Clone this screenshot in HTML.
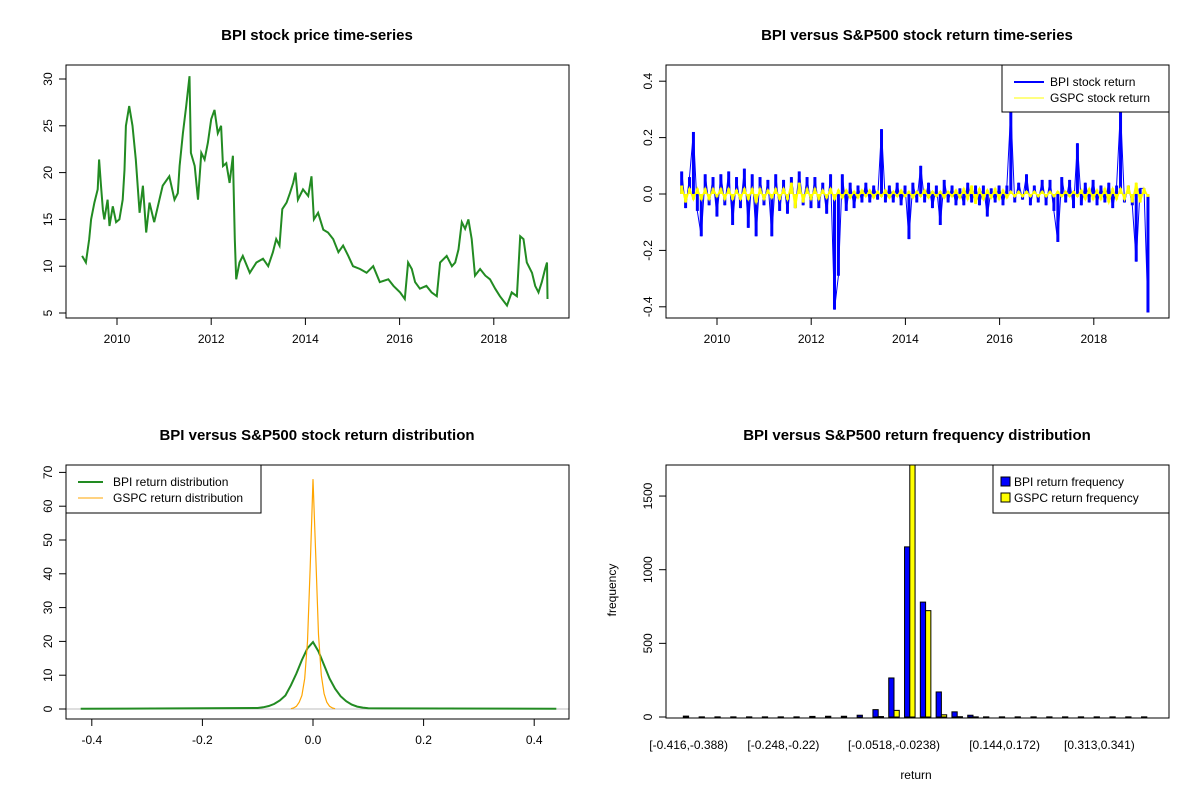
<!DOCTYPE html>
<html><head><meta charset="utf-8">
<style>
html,body{margin:0;padding:0;background:#fff;}
svg{display:block;font-family:"Liberation Sans",Arial,sans-serif;}
</style></head>
<body>
<svg id="chart" width="1200" height="800" viewBox="0 0 1200 800" xmlns="http://www.w3.org/2000/svg">
<rect x="0" y="0" width="1200" height="800" fill="#fff"/>
<g id="p1"></g>
<g id="p2"></g>
<g id="p3"></g>
<g id="p4"></g>
</svg>
<script>
// ---- Panel 1 data: BPI price ----
const priceYears = [2009.26,2009.34,2009.41,2009.45,2009.52,2009.59,2009.62,2009.66,2009.70,2009.73,2009.80,2009.84,2009.91,2009.98,2010.05,2010.12,2010.16,2010.19,2010.26,2010.33,2010.40,2010.48,2010.55,2010.62,2010.69,2010.79,2010.90,2010.97,2011.11,2011.22,2011.29,2011.33,2011.40,2011.47,2011.54,2011.57,2011.65,2011.72,2011.79,2011.86,2011.93,2012.00,2012.07,2012.14,2012.21,2012.25,2012.32,2012.39,2012.46,2012.50,2012.53,2012.60,2012.67,2012.82,2012.96,2013.10,2013.21,2013.31,2013.38,2013.45,2013.51,2013.60,2013.67,2013.74,2013.79,2013.84,2013.95,2014.06,2014.13,2014.18,2014.27,2014.38,2014.48,2014.59,2014.70,2014.80,2014.91,2015.01,2015.16,2015.30,2015.44,2015.58,2015.76,2015.87,2016.01,2016.11,2016.18,2016.26,2016.33,2016.43,2016.57,2016.68,2016.79,2016.86,2017.00,2017.11,2017.18,2017.25,2017.32,2017.39,2017.46,2017.53,2017.60,2017.71,2017.82,2017.92,2018.03,2018.13,2018.28,2018.38,2018.49,2018.56,2018.63,2018.70,2018.81,2018.88,2018.95,2019.02,2019.09,2019.13,2019.14];
const priceValues = [11.1,10.4,12.9,15,16.8,18.2,21.4,18.6,16,15,17.1,14.3,16.4,14.7,15,17.1,20.3,25,27.1,25,21.4,15.7,18.6,13.6,16.8,14.7,17.1,18.6,19.6,17.1,17.8,20.7,24.2,27.1,30.3,22.1,20.7,17.1,22.1,21.4,23.2,25.7,26.7,24.2,25,20.7,21,18.9,21.8,12.9,8.6,10.4,11.1,9.3,10.4,10.8,10,11.5,12.9,12.2,16.1,16.8,17.8,18.9,20,17.1,18.2,17.5,19.6,15,15.7,13.9,13.6,12.9,11.5,12.2,11.1,10,9.7,9.3,10,8.3,8.6,7.9,7.2,6.5,10.4,9.7,8.3,7.6,7.9,7.2,6.8,10.4,11.1,10,10.4,11.8,14.7,14,15,12.9,9,9.7,9,8.6,7.6,6.8,5.8,7.2,6.8,13.2,12.9,10.4,9.3,7.9,7.2,8.3,9.7,10.4,6.5];
const p1YTicks = [5,10,15,20,25,30];
const yearTicks = [2010,2012,2014,2016,2018];

// ---- Panel 2 data: returns ----
const bpiReturns = [0.08,-0.05,0.06,0.22,-0.06,-0.15,0.07,-0.04,0.06,-0.08,0.07,-0.04,0.08,-0.11,0.06,-0.05,0.09,-0.12,0.07,-0.15,0.06,-0.04,0.05,-0.15,0.07,-0.06,0.05,-0.07,0.06,-0.05,0.08,-0.04,0.06,-0.05,0.06,-0.05,0.04,-0.07,0.07,-0.41,-0.29,0.07,-0.06,0.04,-0.05,0.03,-0.03,0.04,-0.03,0.03,-0.02,0.23,-0.03,0.03,-0.03,0.04,-0.04,0.03,-0.16,0.04,-0.03,0.1,-0.03,0.04,-0.05,0.03,-0.11,0.05,-0.03,0.03,-0.04,0.02,-0.04,0.04,-0.03,0.03,-0.04,0.03,-0.08,0.02,-0.03,0.03,-0.04,0.03,0.3,-0.03,0.04,-0.02,0.07,-0.04,0.03,-0.03,0.05,-0.04,0.05,-0.06,-0.17,0.06,-0.03,0.05,-0.05,0.18,-0.04,0.04,-0.03,0.05,-0.04,0.03,-0.03,0.04,-0.05,0.03,0.3,-0.03,0.03,-0.04,-0.24,0.02,0.02,-0.42];
const gspcReturns = [0.03,-0.03,0.02,-0.02,0.02,-0.02,0.02,-0.02,0.02,-0.01,0.02,-0.02,0.02,-0.02,0.015,-0.02,0.02,-0.02,0.02,-0.03,0.02,-0.02,0.015,-0.015,0.02,-0.02,0.02,-0.02,0.04,-0.05,0.04,-0.03,0.02,-0.02,0.02,-0.02,0.015,-0.015,0.02,-0.02,0.015,-0.015,0.015,-0.015,0.01,-0.015,0.015,-0.01,0.015,-0.015,0.01,-0.01,0.015,-0.015,0.01,-0.01,0.015,-0.01,0.01,-0.015,0.01,-0.01,0.015,-0.015,0.01,-0.01,0.01,-0.015,0.01,-0.01,0.015,-0.015,0.02,-0.02,0.03,-0.035,0.02,-0.02,0.015,-0.015,0.02,-0.02,0.015,-0.015,0.01,-0.01,0.01,-0.01,0.01,-0.01,0.01,-0.01,0.01,-0.01,0.01,-0.01,0.01,-0.01,0.01,-0.01,0.01,-0.01,0.015,-0.02,0.02,-0.02,0.015,-0.02,0.02,-0.03,0.02,-0.02,0.02,-0.02,0.03,-0.03,0.04,-0.03,0.02,-0.01];
const returnStartYear = 2009.25;
const returnEndYear = 2019.15;
const p2YTicks = [-0.4,-0.2,0.0,0.2,0.4];
const p2YLabels = ["-0.4","-0.2","0.0","0.2","0.4"];

// ---- Panel 3 data: densities ----
const bpiDensX = [-0.42,-0.1,-0.09,-0.08,-0.07,-0.06,-0.05,-0.04,-0.03,-0.02,-0.01,0,0.01,0.02,0.03,0.04,0.05,0.06,0.07,0.08,0.09,0.1,0.44];
const bpiDensY = [0.05,0.3,0.5,0.9,1.5,2.5,4,7,10.5,14.5,18,19.8,17,13,9,6,3.8,2.3,1.3,0.7,0.4,0.2,0.05];
const gspcDensX = [-0.04,-0.035,-0.03,-0.025,-0.02,-0.015,-0.01,-0.005,0,0.005,0.01,0.015,0.02,0.025,0.03,0.035,0.04];
const gspcDensY = [0.1,0.3,0.8,2,4,9,20,42,68,45,22,10,4.5,2,0.8,0.3,0.1];
const p3XTicks = [-0.4,-0.2,0,0.2,0.4];
const p3XLabels = ["-0.4","-0.2","0.0","0.2","0.4"];
const p3YTicks = [0,10,20,30,40,50,60,70];

// ---- Panel 4 data: frequencies ----
const binLabels = ["[-0.416,-0.388)","","","","","","[-0.248,-0.22)","","","","","","","[-0.0518,-0.0238)","","","","","","","[0.144,0.172)","","","","","","[0.313,0.341)","","",""];
const bpiFreq = [6,1,1,1,1,1,1,1,4,5,5,12,50,265,1155,780,170,35,12,1,1,1,1,1,1,1,1,1,1,1];
const gspcFreq = [0,0,0,0,0,0,0,0,0,0,0,0,3,45,1750,722,15,2,1,0,0,0,0,0,0,0,0,0,0,0];
const p4YTicks = [0,500,1000,1500];

const NS = "http://www.w3.org/2000/svg";
function el(parent, tag, attrs, name, inter) {
  const e = document.createElementNS(NS, tag);
  for (const k in attrs) e.setAttribute(k, attrs[k]);
  
  
  parent.appendChild(e);
  return e;
}
function txt(parent, x, y, s, name, opts) {
  opts = opts || {};
  const t = el(parent, 'text', {x:x, y:y, 'font-size':opts.size||12, 'text-anchor':opts.anchor||'middle', fill:'#000'}, name, false);
  if (opts.bold) t.setAttribute('font-weight','bold');
  if (opts.rot) t.setAttribute('transform','rotate(-90 '+x+' '+y+')');
  t.textContent = s;
  return t;
}
function box(parent, x0, y0, x1, y1, name) {
  el(parent, 'rect', {x:x0, y:y0, width:x1-x0, height:y1-y0, fill:'none', stroke:'#000', 'stroke-width':1}, name, false);
}
function yAxis(parent, ticks, labels, yf, xLeft, name) {
  const g = el(parent, 'g', {}, name, false);
  el(g, 'line', {x1:xLeft, x2:xLeft, y1:yf(ticks[0]), y2:yf(ticks[ticks.length-1]), stroke:'#000'}, 'y-axis-line', false);
  ticks.forEach((t,i)=>{
    el(g, 'line', {x1:xLeft-7, x2:xLeft, y1:yf(t), y2:yf(t), stroke:'#000'}, 'y-tick', false);
    txt(g, xLeft-14, yf(t), labels[i], 'y-tick-label', {rot:true});
  });
}
function xAxis(parent, ticks, labels, xf, yBottom, name) {
  const g = el(parent, 'g', {}, name, false);
  el(g, 'line', {x1:xf(ticks[0]), x2:xf(ticks[ticks.length-1]), y1:yBottom, y2:yBottom, stroke:'#000'}, 'x-axis-line', false);
  ticks.forEach((t,i)=>{
    el(g, 'line', {x1:xf(t), x2:xf(t), y1:yBottom, y2:yBottom+7, stroke:'#000'}, 'x-tick', false);
    txt(g, xf(t), yBottom+25, labels[i], 'x-tick-label');
  });
}
function pts(xs, ys, xf, yf) { return xs.map((x,i)=>xf(x).toFixed(1)+','+yf(ys[i]).toFixed(1)).join(' '); }

// ---------- Panel 1 ----------
(function(){
  const g = document.getElementById('p1');
  const X0=66, X1=569, Y0=65, Y1=318;
  const xf = y => 117 + (y-2010)*47.1;
  const yf = v => 313 - (v-5)*9.36;
  txt(g, 317, 40, 'BPI stock price time-series', 'chart-title', {bold:true, size:15});
  el(g, 'polyline', {points:pts(priceYears, priceValues, xf, yf), fill:'none', stroke:'#228B22', 'stroke-width':2}, 'bpi-price-line', false);
  box(g, X0, Y0, X1, Y1, 'plot-frame');
  yAxis(g, p1YTicks, p1YTicks.map(String), yf, X0, 'y-axis');
  xAxis(g, yearTicks, yearTicks.map(String), xf, Y1, 'x-axis');
})();

// ---------- Panel 2 ----------
(function(){
  const g = document.getElementById('p2');
  const X0=666, X1=1169, Y0=65, Y1=318;
  const xf = y => 717 + (y-2010)*47.1;
  const yf = v => 194 - v*282;
  txt(g, 917, 40, 'BPI versus S&P500 stock return time-series', 'chart-title', {bold:true, size:15});
  const idxYear = (n,i) => returnStartYear + i*(returnEndYear-returnStartYear)/(n-1);
  const bg = el(g, 'g', {stroke:'#0000FF', 'stroke-width':3}, 'bpi-return-series', false);
  bpiReturns.forEach((v,i)=>{
    const x = xf(idxYear(bpiReturns.length,i));
    el(bg, 'line', {x1:x, x2:x, y1:yf(0), y2:yf(v)}, 'bpi-return-spike', false);
  });
  el(g, 'polyline', {points:pts(bpiReturns.map((v,i)=>idxYear(bpiReturns.length,i)), bpiReturns, xf, yf), fill:'none', stroke:'#0000FF', 'stroke-width':1}, 'bpi-return-line', false);
  const gg = el(g, 'g', {stroke:'#FFFF00', 'stroke-width':3}, 'gspc-return-series', false);
  gspcReturns.forEach((v,i)=>{
    const x = xf(idxYear(gspcReturns.length,i));
    el(gg, 'line', {x1:x, x2:x, y1:yf(0), y2:yf(v)}, 'gspc-return-spike', false);
  });
  el(g, 'polyline', {points:pts(gspcReturns.map((v,i)=>idxYear(gspcReturns.length,i)), gspcReturns, xf, yf), fill:'none', stroke:'#FFFF00', 'stroke-width':1.5}, 'gspc-return-line', false);
  box(g, X0, Y0, X1, Y1, 'plot-frame');
  yAxis(g, p2YTicks, p2YLabels, yf, X0, 'y-axis');
  xAxis(g, yearTicks, yearTicks.map(String), xf, Y1, 'x-axis');
  const lg = el(g, 'g', {}, 'legend', false);
  el(lg, 'rect', {x:1002, y:65, width:167, height:47, fill:'#fff', stroke:'#000'}, 'legend-box', false);
  el(lg, 'line', {x1:1014, x2:1044, y1:82, y2:82, stroke:'#0000FF', 'stroke-width':2}, 'legend-swatch-bpi', false);
  txt(lg, 1050, 86, 'BPI stock return', 'legend-entry-bpi', {anchor:'start'});
  el(lg, 'line', {x1:1014, x2:1044, y1:98, y2:98, stroke:'#FFFF00', 'stroke-width':1}, 'legend-swatch-gspc', false);
  txt(lg, 1050, 102, 'GSPC stock return', 'legend-entry-gspc', {anchor:'start'});
})();

// ---------- Panel 3 ----------
(function(){
  const g = document.getElementById('p3');
  const X0=66, X1=569, Y0=465, Y1=719;
  const xf = v => 313 + v*553;
  const yf = v => 709 - v*3.38;
  txt(g, 317, 440, 'BPI versus S&P500 stock return distribution', 'chart-title', {bold:true, size:15});
  el(g, 'line', {x1:X0, x2:X1, y1:yf(0), y2:yf(0), stroke:'#BEBEBE', 'stroke-width':1}, 'zero-baseline', false);
  el(g, 'polyline', {points:pts(bpiDensX, bpiDensY, xf, yf), fill:'none', stroke:'#228B22', 'stroke-width':2}, 'bpi-density-line', false);
  el(g, 'polyline', {points:pts(gspcDensX, gspcDensY, xf, yf), fill:'none', stroke:'#FFA500', 'stroke-width':1.2}, 'gspc-density-line', false);
  box(g, X0, Y0, X1, Y1, 'plot-frame');
  yAxis(g, p3YTicks, p3YTicks.map(String), yf, X0, 'y-axis');
  xAxis(g, p3XTicks, p3XLabels, xf, Y1, 'x-axis');
  const lg = el(g, 'g', {}, 'legend', false);
  el(lg, 'rect', {x:66, y:465, width:195, height:48, fill:'#fff', stroke:'#000'}, 'legend-box', false);
  el(lg, 'line', {x1:78, x2:103, y1:482, y2:482, stroke:'#228B22', 'stroke-width':2}, 'legend-swatch-bpi', false);
  txt(lg, 113, 486, 'BPI return distribution', 'legend-entry-bpi', {anchor:'start'});
  el(lg, 'line', {x1:78, x2:103, y1:498, y2:498, stroke:'#FFA500', 'stroke-width':1}, 'legend-swatch-gspc', false);
  txt(lg, 113, 502, 'GSPC return distribution', 'legend-entry-gspc', {anchor:'start'});
})();

// ---------- Panel 4 ----------
(function(){
  const g = document.getElementById('p4');
  const X0=666, X1=1169, Y0=465, Y1=718;
  const groupW = 15.8, barW = groupW/3;
  const cx = i => 688.6 + i*groupW;
  const yf = v => 717 - v*0.1473;
  txt(g, 917, 440, 'BPI versus S&P500 return frequency distribution', 'chart-title', {bold:true, size:15});
  const clip = el(g, 'clipPath', {id:'p4clip'}, 'plot-clip', false);
  el(clip, 'rect', {x:X0, y:Y0, width:X1-X0, height:Y1-Y0}, 'plot-clip-rect', false);
  const bars = el(g, 'g', {'clip-path':'url(#p4clip)'}, 'bars', false);
  bpiFreq.forEach((v,i)=>{
    el(bars, 'rect', {x:cx(i)-barW, y:yf(v), width:barW, height:Math.max(0,yf(0)-yf(v)), fill:'#0000FF', stroke:'#000', 'stroke-width':1}, 'bar-bpi', false);
  });
  gspcFreq.forEach((v,i)=>{
    el(bars, 'rect', {x:cx(i), y:yf(v), width:barW, height:Math.max(0,yf(0)-yf(v)), fill:'#FFFF00', stroke:'#000', 'stroke-width':1}, 'bar-gspc', false);
  });
  box(g, X0, Y0, X1, Y1, 'plot-frame');
  yAxis(g, p4YTicks, p4YTicks.map(String), yf, X0, 'y-axis');
  binLabels.forEach((s,i)=>{ if (s) txt(g, cx(i), 749, s, 'x-category-label'); });
  txt(g, 916, 779, 'return', 'x-axis-title');
  txt(g, 616, 590, 'frequency', 'y-axis-title', {rot:true});
  const lg = el(g, 'g', {}, 'legend', false);
  el(lg, 'rect', {x:993, y:465, width:176, height:48, fill:'#fff', stroke:'#000'}, 'legend-box', false);
  el(lg, 'rect', {x:1001, y:477, width:9, height:9, fill:'#0000FF', stroke:'#000'}, 'legend-swatch-bpi', false);
  txt(lg, 1014, 486, 'BPI return frequency', 'legend-entry-bpi', {anchor:'start'});
  el(lg, 'rect', {x:1001, y:493, width:9, height:9, fill:'#FFFF00', stroke:'#000'}, 'legend-swatch-gspc', false);
  txt(lg, 1014, 502, 'GSPC return frequency', 'legend-entry-gspc', {anchor:'start'});
})();
</script>
</body></html>
